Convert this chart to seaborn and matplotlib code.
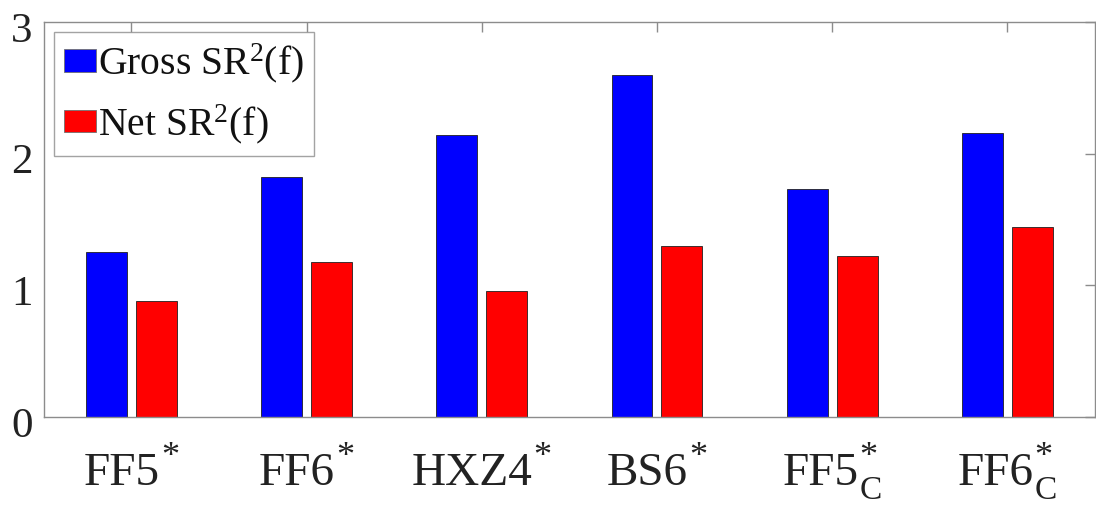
import pandas as pd
import numpy as np
import matplotlib
matplotlib.use('Agg')
import matplotlib.pyplot as plt
import matplotlib.transforms as mtransforms
import seaborn as sns

# Datos
modelos = ['FF5', 'FF6', 'HXZ4', 'BS6', 'FF5C', 'FF6C']
etiqueta_base = ['FF5', 'FF6', 'HXZ4', 'BS6', 'FF5', 'FF6']
etiqueta_sub = ['', '', '', '', 'C', 'C']
gross_sr2 = [1.25, 1.82, 2.14, 2.60, 1.73, 2.16]
net_sr2 = [0.88, 1.18, 0.96, 1.30, 1.22, 1.44]
series = ['Gross SR$^2$(f)', 'Net SR$^2$(f)']

df = pd.DataFrame({
    'modelo': modelos * 2,
    'serie': [series[0]] * len(modelos) + [series[1]] * len(modelos),
    'valor': gross_sr2 + net_sr2,
})

sns.set_theme(style="white")
plt.rcParams['font.family'] = ['Liberation Serif', 'DejaVu Serif']
plt.rcParams['mathtext.fontset'] = 'custom'
plt.rcParams['mathtext.rm'] = 'Liberation Serif'
plt.rcParams['mathtext.it'] = 'Liberation Serif:italic'
plt.rcParams['mathtext.default'] = 'rm'

color_txt = '#222222'
color_eje = '#8c8c8c'

fig = plt.figure(figsize=(10.96, 5.08), dpi=100)
ax = fig.add_axes([0.040, 0.179, 0.959, 0.778])

sns.barplot(data=df, x='modelo', y='valor', hue='serie', order=modelos,
            palette=['#0000ff', '#ff0000'], width=0.57, gap=0.18,
            edgecolor='#202020', linewidth=0.6, saturation=1, ax=ax)

ax.set_xlim(-0.5, 5.5)
ax.set_ylim(0, 3)
ax.set_yticks([0, 1, 2, 3])
ax.set_xticks(range(len(modelos)))
ax.set_xticklabels([''] * len(modelos))
ax.set_xlabel('')
ax.set_ylabel('')

for s in ax.spines.values():
    s.set_color(color_eje)
    s.set_linewidth(1.0)

ax.tick_params(axis='both', direction='in', length=7, width=1.0, color=color_eje,
               top=True, right=True, labelsize=31, labelcolor=color_txt)
ax.tick_params(axis='y', pad=8)
# MATLAB coloca los numeros un poco mas abajo
desplaza = mtransforms.ScaledTranslation(0, -5 / 100, fig.dpi_scale_trans)
for lbl in ax.get_yticklabels():
    lbl.set_transform(lbl.get_transform() + desplaza)

# Etiquetas del eje x: texto + asterisco arriba + subindice C abajo
trans_x = ax.get_xaxis_transform()
renderer = fig.canvas.get_renderer()
for i, (base, sub) in enumerate(zip(etiqueta_base, etiqueta_sub)):
    t_base = ax.text(i, 0, base, fontsize=34, color=color_txt, ha='left', va='baseline',
                     transform=trans_x)
    t_star = ax.text(i, 0, '*', fontsize=26, color=color_txt, ha='left', va='baseline',
                     transform=trans_x)
    t_sub = ax.text(i, 0, sub, fontsize=24, color=color_txt, ha='left', va='baseline',
                    transform=trans_x)
    w_base = t_base.get_window_extent(renderer).width
    w_suf = max(t_star.get_window_extent(renderer).width,
                t_sub.get_window_extent(renderer).width if sub else 0)
    total = w_base + 1 + w_suf
    x0 = -total / 2
    t_base.set_transform(mtransforms.offset_copy(trans_x, fig=fig, x=x0, y=-68, units='dots'))
    t_star.set_transform(mtransforms.offset_copy(trans_x, fig=fig, x=x0 + w_base + 1, y=-49, units='dots'))
    t_sub.set_transform(mtransforms.offset_copy(trans_x, fig=fig, x=x0 + w_base + 1, y=-82, units='dots'))

leg = ax.legend(loc='upper left', fontsize=28.5, frameon=True, fancybox=False,
                borderaxespad=0.25, handlelength=0.83, handleheight=0.5,
                handletextpad=0.05, borderpad=0.25, labelspacing=0.42)
leg.get_frame().set_edgecolor(color_eje)
leg.get_frame().set_linewidth(1.0)
for t in leg.get_texts():
    t.set_color('#111111')
for h in leg.legend_handles:
    h.set_edgecolor('#707070')

plt.savefig('out.png', dpi=100)
